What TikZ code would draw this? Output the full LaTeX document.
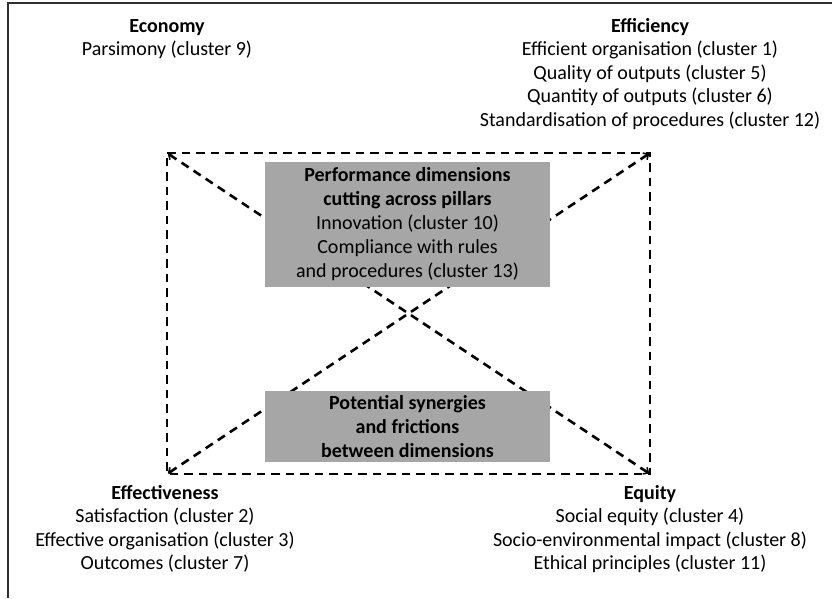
\documentclass[tikz,border=0pt]{standalone}
\usepackage{fontspec}
\setmainfont{Carlito}
\usetikzlibrary{arrows.meta}
\definecolor{boxgray}{HTML}{A6A6A6}
\definecolor{framegray}{HTML}{303030}
\tikzset{
  lbl/.style={align=center, inner sep=0pt, font=\fontsize{20}{23.5}\selectfont},
  greybox/.style={fill=boxgray, draw=none, minimum width=285pt, align=center, inner sep=0pt, font=\fontsize{20}{24}\selectfont},
  dashline/.style={line width=2.6pt, dash pattern=on 8.5pt off 6pt},
  diag/.style={dashline, {Straight Barb[length=4pt,width=8pt,line width=1.6pt]}-{Straight Barb[length=4pt,width=8pt,line width=1.6pt]}, shorten <=1pt, shorten >=1pt}
}
\begin{document}
\begin{tikzpicture}[x=1pt,y=-1pt]
\useasboundingbox (0,0) rectangle (832,598);
\draw[framegray, line width=1.5pt] (8,598) -- (8,3) -- (832,3);
% corner coordinates
\coordinate (tl) at (167,153);
\coordinate (tr) at (650,153);
\coordinate (bl) at (167,474);
\coordinate (br) at (650,474);
\draw[dashline] (tl) -- (tr) -- (br) -- (bl) -- cycle;
\draw[diag] (tl) -- (br);
\draw[diag] (tr) -- (bl);
% grey boxes
\node[greybox, minimum height=125pt] (perf) at (407.5,224.5) {\textbf{Performance dimensions}\\\textbf{cutting across pillars}\\Innovation (cluster 10)\\Compliance with rules\\and procedures (cluster 13)};
\node[greybox, minimum height=71pt] (syn) at (407.5,426.5) {\textbf{Potential synergies}\\\textbf{and frictions}\\\textbf{between dimensions}};
% labels
\node[lbl] (econ) at (167,39) {\textbf{Economy}\\Parsimony (cluster 9)};
\node[lbl] (effi) at (650,74) {\textbf{Efficiency}\\Efficient organisation (cluster 1)\\Quality of outputs (cluster 5)\\Quantity of outputs (cluster 6)\\Standardisation of procedures (cluster 12)};
\node[lbl] (effe) at (165,529) {\textbf{Effectiveness}\\Satisfaction (cluster 2)\\Effective organisation (cluster 3)\\Outcomes (cluster 7)};
\node[lbl] (equi) at (650,529) {\textbf{Equity}\\Social equity (cluster 4)\\Socio-environmental impact (cluster 8)\\Ethical principles (cluster 11)};
\end{tikzpicture}
\end{document}
